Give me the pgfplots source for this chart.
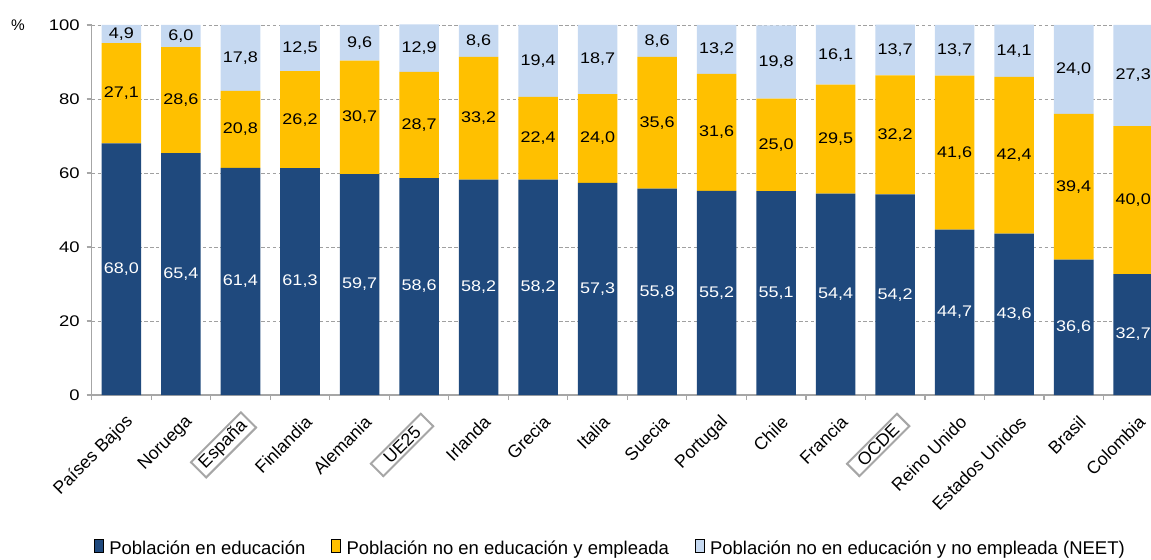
\documentclass[border=0pt]{standalone}
\usepackage{fontspec}
\setmainfont{Liberation Sans}
\usepackage{graphicx}
\usepackage{pgfplots}
\usepackage{pgfplotstable}
\pgfplotsset{compat=1.18}

\definecolor{edublue}{HTML}{1F497D}
\definecolor{empgold}{HTML}{FFC000}
\definecolor{neetblue}{HTML}{C6D9F1}
\definecolor{axgray}{HTML}{A6A6A6}
\definecolor{gridgray}{HTML}{A0A0A0}

\newcommand\lbl{\fontsize{10}{12}\selectfont}
\newcommand\lblbig{\fontsize{11.5}{13.5}\selectfont}
\newcommand\bx[1]{{\setlength\fboxrule{1.3pt}\setlength\fboxsep{1pt}\fcolorbox{axgray}{white}{\makebox[3.7em]{#1}}}}

% shares of population (%), x = category index
\pgfplotstableread{
x edu emp neet
0 68.0 27.1 4.9
1 65.4 28.6 6.0
2 61.4 20.8 17.8
3 61.3 26.2 12.5
4 59.7 30.7 9.6
5 58.6 28.7 12.9
6 58.2 33.2 8.6
7 58.2 22.4 19.4
8 57.3 24.0 18.7
9 55.8 35.6 8.6
10 55.2 31.6 13.2
11 55.1 25.0 19.8
12 54.4 29.5 16.1
13 54.2 32.2 13.7
14 44.7 41.6 13.7
15 43.6 42.4 14.1
16 36.6 39.4 24.0
17 32.7 40.0 27.3
}\shares

\pgfplotsset{
  /pgf/number format/assume math mode=true,
  ybar legend/.style={legend image code/.code={\fill[##1] (0pt,-3.3pt) rectangle (6.6pt,3.3pt);}},
  seglbl/.style={
    only marks, mark=text, text mark={},
    visualization depends on={\thisrow{#1}\as\val},
    nodes near coords={\scalebox{1.17}[1]{\pgfmathprintnumber[fixed,fixed zerofill,precision=1,use comma]{\val}}},
    every node near coord/.append style={anchor=center, font=\lbl, inner sep=0pt},
  },
  samebox/.style={scale only axis, width=696.3pt, height=240.5pt,
    xmin=-0.5, xmax=17.5, ymin=0, ymax=100},
}

\begin{document}
\lbl
\begin{tikzpicture}
\begin{axis}[
  name=ax, samebox,
  ybar stacked, bar width=25.7pt,
  axis lines*=left,
  axis line style={axgray, line width=1pt},
  tick align=outside,
  xtick=data,
  xticklabels={Países Bajos, Noruega, \bx{España}, Finlandia, Alemania, \bx{UE25}, Irlanda, Grecia, Italia, Suecia, Portugal, Chile, Francia, \bx{OCDE}, Reino Unido, Estados Unidos, Brasil, Colombia},
  minor xtick={-0.5,0.5,...,17.5},
  major x tick style={draw=none},
  minor x tick style={axgray, line width=0.8pt},
  minor tick length=3.3pt,
  ytick={0,20,...,100},
  yticklabel={\scalebox{1.2}[1]{\pgfmathprintnumber{\tick}}},
  y tick style={axgray, line width=0.8pt},
  major tick length=3.3pt,
  ymajorgrids,
  grid style={gridgray, dash pattern=on 2.2pt off 1.6pt, line width=0.6pt},
  yticklabel style={font=\lbl, xshift=-1pt},
  xticklabel style={font=\lblbig, rotate=45, anchor=east, xshift=-1.3pt, yshift=-12.8pt},
  legend style={draw=none, fill=none, font=\fontsize{12}{14}\selectfont, at={(0.484,-0.416)}, anchor=center,
    legend columns=-1, nodes={inner sep=1.2pt},
    /tikz/every odd column/.append style={column sep=2.5pt},
    /tikz/every even column/.append style={column sep=15.5pt}},
]
\addplot[fill=edublue, draw=none] table[x=x, y=edu]{\shares};
\addplot[fill=empgold, draw=none] table[x=x, y=emp]{\shares};
\addplot[fill=neetblue, draw=none] table[x=x, y=neet]{\shares};
\legend{Población en educación, Población no en educación y empleada, Población no en educación y no empleada (NEET)}
\end{axis}
% segment labels at the middle of each segment
\begin{axis}[samebox, at={(ax.south west)}, anchor=south west, hide axis, clip=false]
\addplot[seglbl=edu, every node near coord/.append style={text=white}]
  table[x=x, y expr=\thisrow{edu}/2]{\shares};
\addplot[seglbl=emp] table[x=x, y expr=\thisrow{edu}+\thisrow{emp}/2]{\shares};
\addplot[seglbl=neet] table[x=x, y expr=\thisrow{edu}+\thisrow{emp}+\thisrow{neet}/2]{\shares};
\end{axis}
\node[font=\lbl] at ([xshift=-47.9pt]ax.north west) {\%};
\pgfresetboundingbox
\path[use as bounding box] ([shift={(-59.6pt,-106.6pt)}]ax.south west) rectangle ([shift={(688.5pt,256.75pt)}]ax.south west);
\end{tikzpicture}
\end{document}
